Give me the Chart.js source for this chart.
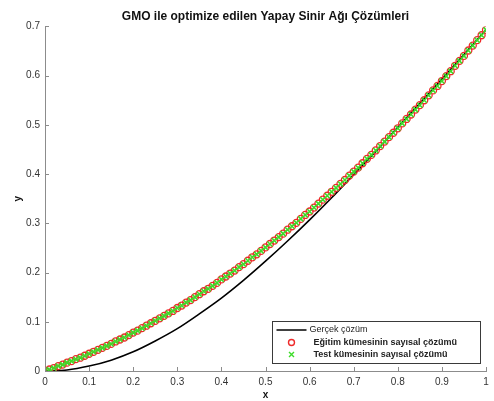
<!DOCTYPE html>
<html>
<head>
<meta charset="utf-8">
<script src="https://cdn.jsdelivr.net/npm/chart.js@4.4.0/dist/chart.umd.min.js"></script>
<style>
  html, body { margin: 0; padding: 0; background: #fff; }
</style>
</head>
<body>
<canvas id="myChart" width="494" height="401"></canvas>
<script>
// gercek cozum (siyah cizgi)
const gercekX = [0, 0.05, 0.1, 0.15, 0.2, 0.25, 0.3, 0.35, 0.4, 0.45, 0.5,
  0.55, 0.6, 0.65, 0.7, 0.75, 0.8, 0.85, 0.9, 0.95, 1];
const gercekY = [0, 0.002, 0.010, 0.022, 0.039, 0.061, 0.086, 0.116, 0.148, 0.184, 0.223,
  0.264, 0.307, 0.352, 0.399, 0.446, 0.495, 0.544, 0.593, 0.643, 0.693];

// egitim kumesi (kirmizi o) - test kumesi ayni noktalarda (yesil x)
const egitimX = [0, 0.01, 0.02, 0.03, 0.04, 0.05, 0.06, 0.07, 0.08, 0.09,
  0.10, 0.11, 0.12, 0.13, 0.14, 0.15, 0.16, 0.17, 0.18, 0.19,
  0.20, 0.21, 0.22, 0.23, 0.24, 0.25, 0.26, 0.27, 0.28, 0.29,
  0.30, 0.31, 0.32, 0.33, 0.34, 0.35, 0.36, 0.37, 0.38, 0.39,
  0.40, 0.41, 0.42, 0.43, 0.44, 0.45, 0.46, 0.47, 0.48, 0.49,
  0.50, 0.51, 0.52, 0.53, 0.54, 0.55, 0.56, 0.57, 0.58, 0.59,
  0.60, 0.61, 0.62, 0.63, 0.64, 0.65, 0.66, 0.67, 0.68, 0.69,
  0.70, 0.71, 0.72, 0.73, 0.74, 0.75, 0.76, 0.77, 0.78, 0.79,
  0.80, 0.81, 0.82, 0.83, 0.84, 0.85, 0.86, 0.87, 0.88, 0.89,
  0.90, 0.91, 0.92, 0.93, 0.94, 0.95, 0.96, 0.97, 0.98, 0.99,
  1.00];
const egitimY = [0, 0.003, 0.006, 0.010, 0.013, 0.017, 0.020, 0.024, 0.027, 0.031,
  0.035, 0.039, 0.043, 0.047, 0.051, 0.055, 0.060, 0.064, 0.068, 0.073,
  0.078, 0.082, 0.087, 0.092, 0.097, 0.102, 0.107, 0.112, 0.117, 0.122,
  0.128, 0.133, 0.139, 0.144, 0.150, 0.156, 0.162, 0.167, 0.173, 0.179,
  0.186, 0.192, 0.198, 0.204, 0.211, 0.217, 0.224, 0.231, 0.237, 0.244,
  0.251, 0.258, 0.265, 0.272, 0.279, 0.287, 0.294, 0.301, 0.309, 0.317,
  0.324, 0.332, 0.340, 0.348, 0.356, 0.364, 0.372, 0.380, 0.388, 0.397,
  0.405, 0.413, 0.422, 0.431, 0.439, 0.448, 0.457, 0.466, 0.475, 0.484,
  0.493, 0.503, 0.512, 0.521, 0.531, 0.540, 0.550, 0.560, 0.570, 0.579,
  0.589, 0.599, 0.609, 0.620, 0.630, 0.640, 0.651, 0.661, 0.672, 0.682,
  0.693];
const testX = egitimX;
const testY = egitimY;

const etiketler = ['Gerçek çözüm', 'Eğitim kümesinin sayısal çözümü', 'Test kümesinin sayısal çözümü'];

const FONT = '"Liberation Sans", Arial, sans-serif';
const axisGray = '#8c8c8c';
const red = '#ee2a2a';
const green = '#3cdc28';

function pts(xs, ys) {
  return xs.map((x, i) => ({x: x, y: ys[i]}));
}

function tickFmt(v) {
  return String(Number(v.toFixed(1)));
}

// matlab tarzi iceri dogru tikler + lejant
const ekstra = {
  id: 'ekstra',
  afterDatasetsDraw(chart) {
    const ctx = chart.ctx;
    const a = chart.chartArea;
    const sx = chart.scales.x, sy = chart.scales.y;
    ctx.save();
    ctx.strokeStyle = axisGray;
    ctx.lineWidth = 1;
    ctx.beginPath();
    sx.ticks.forEach(t => {
      const px = Math.round(sx.getPixelForValue(t.value)) + 0.5;
      ctx.moveTo(px, a.bottom);
      ctx.lineTo(px, a.bottom - 4);
    });
    sy.ticks.forEach(t => {
      const py = Math.round(sy.getPixelForValue(t.value)) + 0.5;
      ctx.moveTo(a.left, py);
      ctx.lineTo(a.left + 4, py);
    });
    ctx.stroke();

    // lejant kutusu
    const bx = 272.5, by = 321.5, bw = 208, bh = 42;
    ctx.fillStyle = '#fff';
    ctx.fillRect(bx, by, bw, bh);
    ctx.strokeStyle = '#3a3a3a';
    ctx.lineWidth = 1;
    ctx.strokeRect(bx, by, bw, bh);

    const r1 = by + 8.5, r2 = by + 21, r3 = by + 33;
    ctx.strokeStyle = '#000';
    ctx.lineWidth = 1.5;
    ctx.beginPath();
    ctx.moveTo(bx + 4, r1);
    ctx.lineTo(bx + 34, r1);
    ctx.stroke();

    ctx.strokeStyle = red;
    ctx.lineWidth = 1.4;
    ctx.beginPath();
    ctx.arc(bx + 19, r2, 3, 0, Math.PI * 2);
    ctx.stroke();

    ctx.strokeStyle = green;
    ctx.beginPath();
    ctx.moveTo(bx + 16.5, r3 - 2.5); ctx.lineTo(bx + 21.5, r3 + 2.5);
    ctx.moveTo(bx + 21.5, r3 - 2.5); ctx.lineTo(bx + 16.5, r3 + 2.5);
    ctx.stroke();

    ctx.fillStyle = '#222';
    ctx.textBaseline = 'middle';
    ctx.textAlign = 'left';
    ctx.font = '9px ' + FONT;
    ctx.fillText(etiketler[0], bx + 37, r1);
    ctx.font = 'bold 9px ' + FONT;
    ctx.fillText(etiketler[1], bx + 41, r2);
    ctx.fillText(etiketler[2], bx + 41, r3);
    ctx.restore();
  }
};

const ctx = document.getElementById('myChart');
const myChart = new Chart(ctx, {
  type: 'scatter',
  data: {
    datasets: [
      {
        label: etiketler[0],
        data: pts(gercekX, gercekY),
        showLine: true,
        borderColor: '#000',
        borderWidth: 1.6,
        pointRadius: 0,
        cubicInterpolationMode: 'monotone',
        order: 3
      },
      {
        label: etiketler[1],
        data: pts(egitimX, egitimY),
        pointStyle: 'circle',
        pointRadius: 3.5,
        borderColor: red,
        backgroundColor: 'rgba(0,0,0,0)',
        borderWidth: 1.3,
        order: 2
      },
      {
        label: etiketler[2],
        data: pts(testX, testY),
        pointStyle: 'crossRot',
        pointRadius: 3.5,
        borderColor: green,
        backgroundColor: green,
        borderWidth: 1.6,
        order: 1
      }
    ]
  },
  options: {
    responsive: false,
    animation: false,
    events: [],
    layout: { padding: { left: 0, right: 8, top: 0, bottom: 0 } },
    plugins: {
      legend: { display: false },
      tooltip: { enabled: false },
      title: {
        display: true,
        fullSize: false,
        text: 'GMO ile optimize edilen Yapay Sinir Ağı Çözümleri',
        color: '#111',
        font: { family: FONT, size: 12, weight: 'bold' },
        padding: { top: 9, bottom: 3 }
      }
    },
    scales: {
      x: {
        type: 'linear',
        min: 0,
        max: 1,
        grid: { display: false, drawTicks: false },
        border: { display: true, color: axisGray, width: 1 },
        ticks: { stepSize: 0.1, color: '#333', padding: 5, maxRotation: 0,
          callback: tickFmt,
          font: { family: FONT, size: 10 } },
        title: { display: true, text: 'x', color: '#111', padding: { top: 0, bottom: 0 },
          font: { family: FONT, size: 10, weight: 'bold' } },
        afterFit(s) { s.height = 30; }
      },
      y: {
        type: 'linear',
        min: 0,
        max: 0.7,
        grid: { display: false, drawTicks: false },
        border: { display: true, color: axisGray, width: 1 },
        ticks: { stepSize: 0.1, color: '#333', padding: 5,
          callback: tickFmt,
          font: { family: FONT, size: 10 } },
        title: { display: true, text: 'y', color: '#111', padding: { top: 12, bottom: 0 },
          font: { family: FONT, size: 10, weight: 'bold' } },
        afterFit(s) { s.width = 45; }
      }
    }
  },
  plugins: [ekstra]
});
</script>
</body>
</html>
